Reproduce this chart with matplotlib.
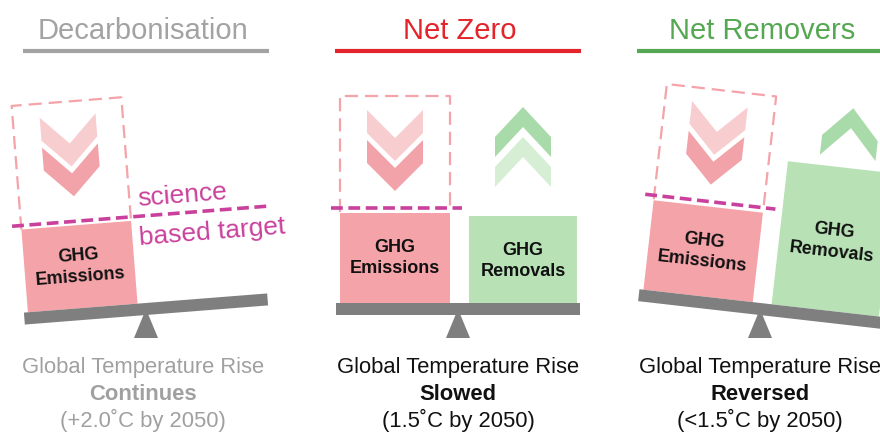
import numpy as np
import matplotlib
matplotlib.use("Agg")
import matplotlib.pyplot as plt
from matplotlib.patches import Polygon
from matplotlib.transforms import Affine2D

plt.rcParams["font.family"] = ["Liberation Sans", "DejaVu Sans"]
plt.rcParams["lines.scale_dashes"] = False

# ---- content -------------------------------------------------------------
titles = ["Decarbonisation", "Net Zero", "Net Removers"]
title_colors = ["#a3a3a3", "#e3242b", "#55a852"]
outcomes = ["Continues", "Slowed", "Reversed"]
temps = ["(+2.0˚C by 2050)", "(1.5˚C by 2050)", "(<1.5˚C by 2050)"]
caption_colors = ["#a0a0a0", "#111111", "#111111"]
emissions = [83, 90, 90]      # emission block height above beam
removals = [0, 87, 144]       # removal block height above beam
target = [87, 95, 95]         # science based target level above beam
tilt = [4.5, 0.0, -6.5]       # beam tilt, degrees (counter-clockwise)
up_chevrons = [0, 2, 1]

# ---- layout --------------------------------------------------------------
W, H = 880, 432
centers = [146, 458, 760]
beam_y = 309
half_beam, beam_t = 122, 6
em_x = (-118, -8)
rm_x = (11, 119)

PINK, PINK_L, PINK_D = "#f4a3a9", "#f8cdd0", "#f2a2a9"
GREEN, GREEN_D, GREEN_L = "#b8e2b6", "#a9daa9", "#d5eed4"
GREY = "#7f7f7f"
MAGENTA = "#c9419c"

fig = plt.figure(figsize=(W / 100, H / 100), dpi=100)
ax = fig.add_axes([0, 0, 1, 1])
ax.set_xlim(0, W)
ax.set_ylim(H, 0)
ax.axis("off")


def chevron(c, y, down=True, a=28, d=28, s=23):
    if down:
        pts = [(c - a, y), (c, y + d), (c + a, y), (c + a, y + s),
               (c, y + s + d), (c - a, y + s)]
    else:
        pts = [(c, y), (c + a, y + d), (c + a, y + d + s), (c, y + s),
               (c - a, y + d + s), (c - a, y + d)]
    return pts


for i in range(3):
    cx = centers[i]
    tr = Affine2D().rotate_deg(-tilt[i]).translate(cx, beam_y)
    T = tr + ax.transData

    def pt(x, y):
        return tr.transform((x, y))

    top = -beam_t
    # chevrons
    ax.add_patch(Polygon(chevron(-63, -199), closed=True, fc=PINK_L, ec="none",
                         transform=T, zorder=1))
    ax.add_patch(Polygon(chevron(-63, -169), closed=True, fc=PINK_D, ec="none",
                         transform=T, zorder=1))
    up_top = -202 if i == 1 else -210
    if up_chevrons[i] >= 1:
        ax.add_patch(Polygon(chevron(65 if i == 1 else 70, up_top, down=False, d=30, s=20),
                             closed=True, fc=GREEN_D, ec="none", transform=T, zorder=1))
    if up_chevrons[i] >= 2:
        ax.add_patch(Polygon(chevron(65, up_top + 30, down=False, d=30, s=20), closed=True,
                             fc=GREEN_L, ec="none", transform=T, zorder=1))

    # dashed outline of the original emissions
    ty = top - target[i]
    ax.plot([em_x[0], em_x[0], em_x[1], em_x[1]],
            [ty + 4, -213, -213, ty + 4], color=PINK, lw=1.6,
            linestyle=(0, (9.5, 5)), transform=T, zorder=2,
            solid_joinstyle="miter")

    # blocks
    ex0, ex1 = em_x
    ax.add_patch(Polygon([(ex0, top), (ex1, top), (ex1, top - emissions[i]),
                          (ex0, top - emissions[i])], fc=PINK, ec="none",
                         transform=T, zorder=3))
    x, y = pt((ex0 + ex1) / 2, top - emissions[i] / 2)
    ax.text(x, y, "GHG\nEmissions", ha="center", va="center", fontsize=13,
            fontweight="bold", color="#111111", rotation=tilt[i],
            rotation_mode="anchor", linespacing=1.3, zorder=6)
    if removals[i] > 0:
        rx0, rx1 = rm_x
        ax.add_patch(Polygon([(rx0, top), (rx1, top), (rx1, top - removals[i]),
                              (rx0, top - removals[i])], fc=GREEN, ec="none",
                             transform=T, zorder=3))
        x, y = pt((rx0 + rx1) / 2, top - min(removals[i], 90) / 2 - (removals[i] - 90) * 0.45)
        ax.text(x, y, "GHG\nRemovals", ha="center", va="center", fontsize=13,
                fontweight="bold", color="#111111", rotation=tilt[i],
                rotation_mode="anchor", linespacing=1.3, zorder=6)

    # beam and fulcrum
    ax.add_patch(Polygon([(-half_beam, -beam_t), (half_beam, -beam_t),
                          (half_beam, beam_t), (-half_beam, beam_t)],
                         fc=GREY, ec="none", transform=T, zorder=4))
    ax.add_patch(Polygon([(cx, beam_y), (cx + 12, 338), (cx - 12, 338)],
                         fc=GREY, ec="none", zorder=3))

    # science based target line
    x_end = 132 if i == 0 else 4
    ax.plot([-127, x_end], [ty, ty], color=MAGENTA, lw=2.6,
            linestyle=(0, (8.5, 4)), transform=T, zorder=5)
    if i == 0:
        x, y = pt(45, -110)
        ax.text(x, y, "science", ha="center", va="center", fontsize=19,
                color=MAGENTA, rotation=tilt[i], rotation_mode="anchor", zorder=6)
        x, y = pt(72, -71)
        ax.text(x, y, "based target", ha="center", va="center", fontsize=19,
                color=MAGENTA, rotation=tilt[i], rotation_mode="anchor", zorder=6)

    # headings
    ax.text(cx - 3 if i == 0 else cx + 2, 31, titles[i], ha="center", va="center",
            fontsize=21, color=title_colors[i])
    ax.plot([cx - 123, cx + 123], [51, 51], color=title_colors[i], lw=3,
            solid_capstyle="butt")

    # captions
    ax.text(cx - 3 if i == 0 else cx, 367, "Global Temperature Rise",
            ha="center", va="center", fontsize=15.8, color=caption_colors[i])
    ax.text(cx - 3 if i == 0 else cx, 394, outcomes[i], ha="center",
            va="center", fontsize=15.8, fontweight="bold", color=caption_colors[i])
    ax.text(cx - 3 if i == 0 else cx, 420, temps[i], ha="center", va="center",
            fontsize=15.8, color=caption_colors[i])

fig.savefig("out.png", dpi=100)
